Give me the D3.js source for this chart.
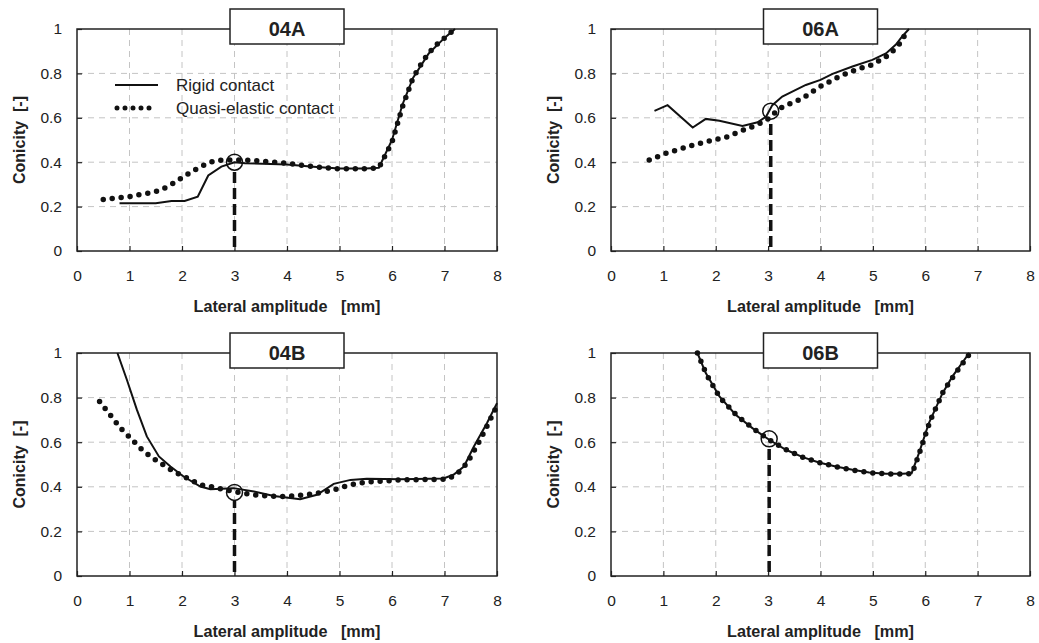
<!DOCTYPE html>
<html>
<head>
<meta charset="utf-8">
<script src="https://cdn.jsdelivr.net/npm/d3@7"></script>
<style>
  body { margin: 0; background: #fff; }
  svg text { font-family: "Liberation Sans", Arial, sans-serif; fill: #222; white-space: pre; }
</style>
</head>
<body>
<svg id="chart" width="1039" height="643"></svg>
<script>
// axis ticks
const X_TICKS = [0, 1, 2, 3, 4, 5, 6, 7, 8];
const Y_TICKS = [0, 0.2, 0.4, 0.6, 0.8, 1];
const X_LABEL = 'Lateral amplitude   [mm]';
const Y_LABEL = 'Conicity  [-]';
const SERIES_NAMES = ['Rigid contact', 'Quasi-elastic contact'];

// 04A
const rigid04A = [[0.81, 0.215], [1.5, 0.215], [1.8, 0.225], [2.05, 0.225], [2.3, 0.245], [2.5, 0.34],
  [2.75, 0.38], [3.0, 0.40], [3.2, 0.395], [4.0, 0.39], [4.5, 0.38], [5.0, 0.372], [5.5, 0.372],
  [5.75, 0.375], [6.0, 0.50], [6.2, 0.66], [6.4, 0.78], [6.7, 0.89], [7.0, 0.96], [7.2, 1.0]];
const quasi04A = [[0.5, 0.232], [0.8, 0.24], [1.0, 0.245], [1.2, 0.255], [1.4, 0.262], [1.6, 0.275],
  [1.8, 0.30], [2.0, 0.33], [2.2, 0.36], [2.4, 0.385], [2.6, 0.405], [2.8, 0.41], [3.2, 0.41],
  [3.5, 0.405], [4.0, 0.395], [4.5, 0.38], [5.0, 0.37], [5.5, 0.37], [5.75, 0.375], [6.0, 0.49],
  [6.2, 0.65], [6.4, 0.78], [6.6, 0.86], [6.8, 0.92], [7.0, 0.96], [7.2, 1.0]];
const mark04A = [3.0, 0.40];

// 06A
const rigid06A = [[0.83, 0.631], [1.08, 0.657], [1.56, 0.556], [1.81, 0.595], [2.07, 0.587],
  [2.51, 0.563], [2.8, 0.58], [2.96, 0.605], [3.08, 0.657], [3.27, 0.696], [3.72, 0.748],
  [4.0, 0.771], [4.23, 0.798], [4.61, 0.831], [4.99, 0.861], [5.25, 0.89], [5.44, 0.93],
  [5.56, 0.967], [5.69, 1.0]];
const quasi06A = [[0.73, 0.41], [1.05, 0.44], [1.56, 0.477], [1.91, 0.497], [2.23, 0.515],
  [2.45, 0.538], [2.7, 0.56], [2.96, 0.587], [3.08, 0.613], [3.27, 0.648], [3.66, 0.688],
  [3.97, 0.738], [4.36, 0.786], [4.67, 0.816], [4.99, 0.839], [5.31, 0.884], [5.5, 0.93],
  [5.63, 0.98], [5.68, 1.0]];
const mark06A = [3.05, 0.63];

// 04B
const rigid04B = [[0.77, 1.0], [0.95, 0.88], [1.14, 0.746], [1.33, 0.626], [1.56, 0.536],
  [1.78, 0.491], [2.03, 0.446], [2.35, 0.401], [2.54, 0.389], [2.98, 0.394], [3.37, 0.379],
  [3.75, 0.359], [4.25, 0.344], [4.57, 0.364], [4.89, 0.413], [5.21, 0.431], [5.52, 0.436],
  [6.16, 0.434], [6.98, 0.437], [7.17, 0.454], [7.37, 0.491], [7.56, 0.581], [7.81, 0.686],
  [8.0, 0.775]];
const quasi04B = [[0.43, 0.783], [0.63, 0.723], [0.83, 0.663], [1.02, 0.618], [1.21, 0.573],
  [1.4, 0.536], [1.59, 0.506], [1.84, 0.469], [2.1, 0.439], [2.35, 0.409], [2.6, 0.398],
  [2.98, 0.379], [3.37, 0.364], [3.81, 0.356], [4.13, 0.359], [4.51, 0.368], [4.89, 0.386],
  [5.21, 0.409], [5.52, 0.421], [6.16, 0.431], [7.05, 0.434], [7.24, 0.458], [7.43, 0.506],
  [7.68, 0.611], [8.0, 0.763]];
const mark04B = [3.0, 0.375];

// 06B
const rigid06B = [[1.65, 1.0], [1.81, 0.91], [2.07, 0.805], [2.38, 0.723], [2.7, 0.663],
  [3.02, 0.611], [3.34, 0.566], [3.66, 0.533], [3.97, 0.509], [4.29, 0.491], [4.61, 0.476],
  [4.93, 0.464], [5.25, 0.458], [5.56, 0.458], [5.74, 0.461], [5.88, 0.551], [6.07, 0.686],
  [6.33, 0.82], [6.52, 0.895], [6.84, 1.0]];
const quasi06B = [[1.65, 1.0], [1.82, 0.905], [2.08, 0.8], [2.4, 0.72], [2.72, 0.66],
  [3.04, 0.608], [3.36, 0.564], [3.68, 0.531], [4.0, 0.507], [4.32, 0.489], [4.64, 0.474],
  [4.96, 0.463], [5.28, 0.458], [5.58, 0.457], [5.75, 0.46], [5.9, 0.56], [6.1, 0.7],
  [6.35, 0.83], [6.55, 0.9], [6.86, 1.0]];
const mark06B = [3.02, 0.615];

// panel layout
const panels = [
  { title: '04A', rigid: rigid04A, quasi: quasi04A, mark: mark04A, left: 77, right: 497, top: 29, bottom: 251, legend: true },
  { title: '06A', rigid: rigid06A, quasi: quasi06A, mark: mark06A, left: 611, right: 1030, top: 29, bottom: 251 },
  { title: '04B', rigid: rigid04B, quasi: quasi04B, mark: mark04B, left: 77, right: 497, top: 353, bottom: 576 },
  { title: '06B', rigid: rigid06B, quasi: quasi06B, mark: mark06B, left: 611, right: 1030, top: 353, bottom: 576 }
];

const svg = d3.select('#chart');
svg.append('rect').attr('width', 1039).attr('height', 643).attr('fill', '#fff');

panels.forEach((p) => {
  const x = d3.scaleLinear().domain([0, 8]).range([p.left, p.right]);
  const y = d3.scaleLinear().domain([0, 1]).range([p.bottom, p.top]);
  const g = svg.append('g');

  // grid
  g.selectAll('.vgrid').data(X_TICKS.slice(1, -1)).enter().append('line')
    .attr('x1', (d) => x(d)).attr('x2', (d) => x(d))
    .attr('y1', p.top).attr('y2', p.bottom)
    .attr('stroke', '#c4c4c4').attr('stroke-dasharray', '6,5');
  g.selectAll('.hgrid').data(Y_TICKS.slice(1, -1)).enter().append('line')
    .attr('x1', p.left).attr('x2', p.right)
    .attr('y1', (d) => y(d)).attr('y2', (d) => y(d))
    .attr('stroke', '#c4c4c4').attr('stroke-dasharray', '6,5');

  // axes (inward ticks)
  const xAxis = g.append('g').attr('transform', `translate(0,${p.bottom})`)
    .call(d3.axisBottom(x).tickValues(X_TICKS).tickSizeInner(-5).tickSizeOuter(0).tickPadding(19).tickFormat((d) => d));
  const yAxis = g.append('g').attr('transform', `translate(${p.left},0)`)
    .call(d3.axisLeft(y).tickValues(Y_TICKS).tickSizeInner(-5).tickSizeOuter(0).tickPadding(15).tickFormat((d) => d));
  [xAxis, yAxis].forEach((a) => {
    a.select('.domain').remove();
    a.selectAll('.tick line').attr('stroke', '#222').attr('stroke-width', 1.2);
    a.selectAll('.tick text').attr('font-size', 15.5).attr('fill', '#222');
  });

  // frame
  g.append('rect').attr('x', p.left).attr('y', p.top)
    .attr('width', p.right - p.left).attr('height', p.bottom - p.top)
    .attr('fill', 'none').attr('stroke', '#222').attr('stroke-width', 1.5);

  const line = d3.line().x((d) => x(d[0])).y((d) => y(d[1]));

  // quasi-elastic (dotted)
  g.append('path').datum(p.quasi).attr('d', line)
    .attr('fill', 'none').attr('stroke', '#111').attr('stroke-width', 5.5)
    .attr('stroke-linecap', 'round').attr('stroke-dasharray', '0,9');
  // rigid (solid)
  g.append('path').datum(p.rigid).attr('d', line)
    .attr('fill', 'none').attr('stroke', '#111').attr('stroke-width', 2);

  // marker circle + dashed drop line
  g.append('line')
    .attr('x1', x(p.mark[0])).attr('x2', x(p.mark[0]))
    .attr('y1', y(0) - 4).attr('y2', y(p.mark[1]) + 8)
    .attr('stroke', '#111').attr('stroke-width', 3.5).attr('stroke-dasharray', '11,5');
  g.append('circle').attr('cx', x(p.mark[0])).attr('cy', y(p.mark[1])).attr('r', 8)
    .attr('fill', 'none').attr('stroke', '#111').attr('stroke-width', 1.5);

  // title box
  const cx = (p.left + p.right) / 2;
  g.append('rect').attr('x', cx - 57).attr('y', p.top - 20).attr('width', 114).attr('height', 35)
    .attr('fill', '#fff').attr('stroke', '#222').attr('stroke-width', 1.5);
  g.append('text').attr('x', cx).attr('y', p.top + 7).attr('text-anchor', 'middle')
    .attr('font-size', 20).attr('font-weight', 'bold').attr('fill', '#111').text(p.title);

  // axis titles
  g.append('text').attr('x', cx).attr('y', p.bottom + 61).attr('text-anchor', 'middle')
    .attr('font-size', 16).attr('font-weight', 'bold')
    .attr('textLength', 187).attr('lengthAdjust', 'spacingAndGlyphs').text(X_LABEL);
  g.append('text').attr('transform', `translate(${p.left - 52},${(p.top + p.bottom) / 2}) rotate(-90)`)
    .attr('text-anchor', 'middle').attr('font-size', 16).attr('font-weight', 'bold').text(Y_LABEL);

  // legend
  if (p.legend) {
    g.append('line').attr('x1', 115).attr('x2', 158).attr('y1', 85).attr('y2', 85)
      .attr('stroke', '#111').attr('stroke-width', 2);
    g.append('line').attr('x1', 117).attr('x2', 157).attr('y1', 108).attr('y2', 108)
      .attr('stroke', '#111').attr('stroke-width', 5).attr('stroke-linecap', 'round').attr('stroke-dasharray', '0,8');
    g.selectAll('.leg').data(SERIES_NAMES).enter().append('text')
      .attr('x', 176).attr('y', (d, i) => 91 + i * 23)
      .attr('font-size', 17).text((d) => d);
  }
});
</script>
</body>
</html>
